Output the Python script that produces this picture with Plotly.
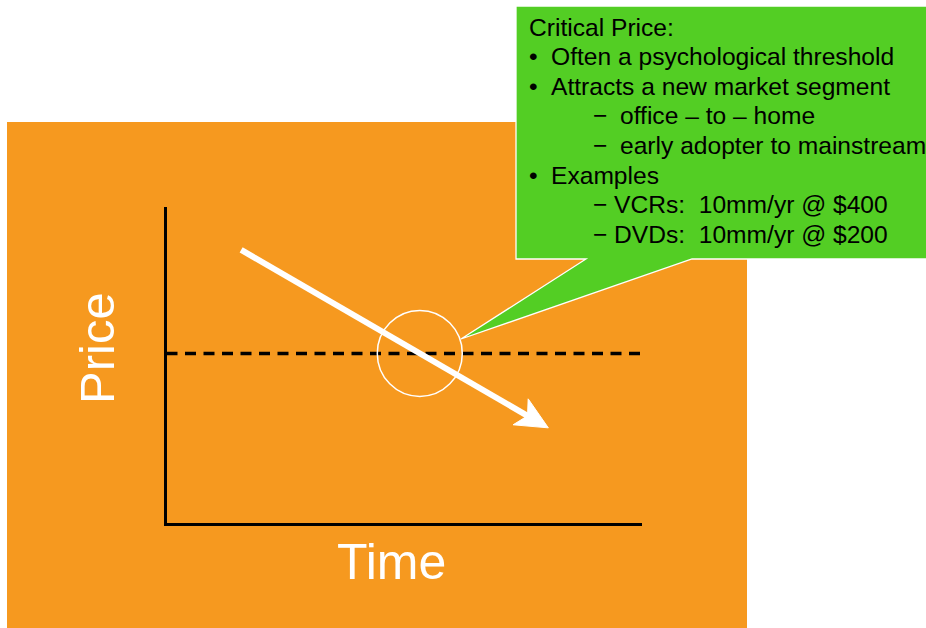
import math
import plotly.graph_objects as go

# ---- conceptual data ----
time_range = [0, 10]
price_range = [0, 10]
trend_time = [1.57, 8.03]      # falling price over time (start, end of arrow)
trend_price = [8.64, 3.0]
critical_price = 5.36          # the psychological threshold
critical_span = [0, 10]

axis_labels = ["Time", "Price"]
callout_title = "Critical Price:"
callout_items = [
    ("bullet", "Often a psychological threshold"),
    ("bullet", "Attracts a new market segment"),
    ("sub", "office \u2013 to \u2013 home"),
    ("sub", "early adopter to mainstream"),
    ("bullet", "Examples"),
    ("sub2", "VCRs:  10mm/yr @ $400"),
    ("sub2", "DVDs:  10mm/yr @ $200"),
]

W, H = 926, 628
ORANGE = "#F6991F"
GREEN = "#53CE24"
FONT = "Liberation Sans, Arial, sans-serif"

# plot area in pixels
PX0, PX1 = 166.5, 642
PY0, PY1 = 522.5, 207   # bottom, top


def t2px(t):
    return PX0 + (t - time_range[0]) / (time_range[1] - time_range[0]) * (PX1 - PX0)


def p2py(p):
    return PY0 + (p - price_range[0]) / (price_range[1] - price_range[0]) * (PY1 - PY0)


def px2t(x):
    return time_range[0] + (x - PX0) / (PX1 - PX0) * (time_range[1] - time_range[0])


def py2p(y):
    return price_range[0] + (y - PY0) / (PY1 - PY0) * (price_range[1] - price_range[0])


def xp(x):
    return x / W


def yp(y):
    return 1 - y / H


# crossing of trend with the critical price
frac = (trend_price[0] - critical_price) / (trend_price[0] - trend_price[1])
cross_t = trend_time[0] + frac * (trend_time[1] - trend_time[0])

# arrow head computed in pixel space from trend direction
sx, sy = t2px(trend_time[0]), p2py(trend_price[0])
ex, ey = t2px(trend_time[1]), p2py(trend_price[1])
L = math.hypot(ex - sx, ey - sy)
ux, uy = (ex - sx) / L, (ey - sy) / L
nx, ny = -uy, ux
head_len, head_half, notch = 32, 15, 24
bx, by = ex - head_len * ux, ey - head_len * uy
c1 = (bx + head_half * nx, by + head_half * ny)
c2 = (bx - head_half * nx, by - head_half * ny)
nk = (ex - notch * ux, ey - notch * uy)
head_px = [(ex, ey), c1, nk, c2, (ex, ey)]

fig = go.Figure()

# critical price dashed line
fig.add_trace(go.Scatter(
    x=critical_span, y=[critical_price, critical_price], mode="lines",
    line=dict(color="black", width=3.5, dash="11px,7.5px"),
    hoverinfo="skip", showlegend=False))

# trend shaft
fig.add_trace(go.Scatter(
    x=[trend_time[0], px2t(nk[0] + 2 * ux)], y=[trend_price[0], py2p(nk[1] + 2 * uy)],
    mode="lines", line=dict(color="white", width=6),
    hoverinfo="skip", showlegend=False))

# arrow head
fig.add_trace(go.Scatter(
    x=[px2t(p[0]) for p in head_px], y=[py2p(p[1]) for p in head_px],
    mode="lines", fill="toself", fillcolor="white",
    line=dict(color="white", width=1),
    hoverinfo="skip", showlegend=False))

shapes = []
# orange panel
shapes.append(dict(type="rect", xref="paper", yref="paper",
                   x0=xp(7), x1=xp(747), y0=yp(640), y1=yp(122),
                   fillcolor=ORANGE, line=dict(width=0), layer="below"))
# circle around crossing
shapes.append(dict(type="circle", xref="x", yref="y",
                   xsizemode="pixel", ysizemode="pixel",
                   xanchor=cross_t, yanchor=critical_price,
                   x0=-42.5, x1=42.5, y0=-43, y1=43,
                   line=dict(color="white", width=1.5)))
# green callout
poly = [(516, 6), (940, 6), (940, 259), (692, 259), (461, 339), (586, 259), (516, 259)]
path = "M " + " L ".join(f"{xp(x):.5f},{yp(y):.5f}" for x, y in poly) + " Z"
shapes.append(dict(type="path", xref="paper", yref="paper", path=path,
                   fillcolor=GREEN, line=dict(color="white", width=1.3)))

ann = []
ann.append(dict(text=axis_labels[0], x=xp(391), y=yp(562), xref="paper", yref="paper",
                showarrow=False, font=dict(family=FONT, size=50, color="white"),
                xanchor="center", yanchor="middle"))
ann.append(dict(text=axis_labels[1], x=xp(97), y=yp(348), xref="paper", yref="paper",
                showarrow=False, textangle=-90,
                font=dict(family=FONT, size=49, color="white"),
                xanchor="center", yanchor="middle"))

tf = dict(family=FONT, size=24.6, color="black")
line_y0, line_dy = 27, 29.6
ann.append(dict(text=callout_title, x=xp(527), y=yp(line_y0), xref="paper", yref="paper",
                showarrow=False, font=tf, xanchor="left", yanchor="middle"))
for i, (kind, txt) in enumerate(callout_items):
    y = line_y0 + (i + 1) * line_dy
    if kind == "bullet":
        mx, mt, tx = 527, "\u2022", 549
    elif kind == "sub":
        mx, mt, tx = 591, "\u2212", 618
    else:
        mx, mt, tx = 591, "\u2212", 612
    ann.append(dict(text=mt, x=xp(mx), y=yp(y), xref="paper", yref="paper",
                    showarrow=False, font=tf, xanchor="left", yanchor="middle"))
    ann.append(dict(text=txt, x=xp(tx), y=yp(y), xref="paper", yref="paper",
                    showarrow=False, font=tf, xanchor="left", yanchor="middle"))

fig.update_layout(
    width=W, height=H, margin=dict(l=0, r=0, t=0, b=0),
    paper_bgcolor="white", plot_bgcolor="rgba(0,0,0,0)",
    shapes=shapes, annotations=ann, showlegend=False,
    xaxis=dict(domain=[PX0 / W, PX1 / W], range=time_range, showline=True,
               linecolor="black", linewidth=3, showgrid=False, zeroline=False,
               showticklabels=False, ticks="", fixedrange=True),
    yaxis=dict(domain=[1 - PY0 / H, 1 - PY1 / H], range=price_range, showline=True,
               linecolor="black", linewidth=3, showgrid=False, zeroline=False,
               showticklabels=False, ticks="", fixedrange=True),
)

fig.write_html("out.html", config={"displayModeBar": False})
